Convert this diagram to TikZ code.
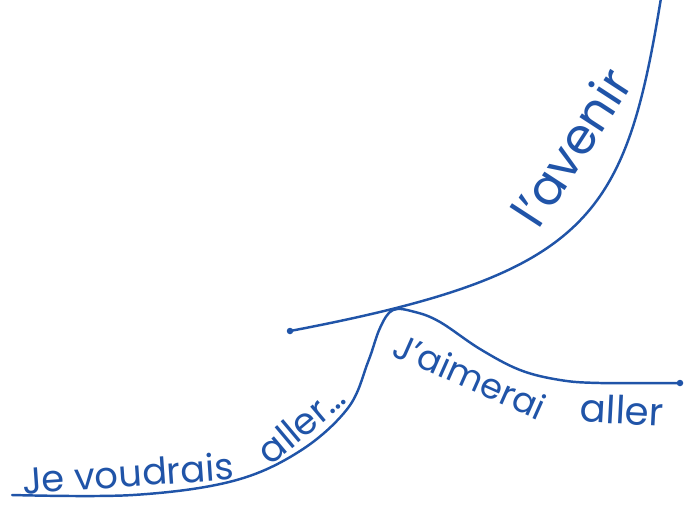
\documentclass[tikz,border=0pt]{standalone}
\usepackage{fontspec}
\setmainfont{Poppins}
\usetikzlibrary{positioning}
\definecolor{pen}{RGB}{32,84,168}
\tikzset{
  stroke/.style={draw=pen,line width=1.4pt,line cap=round,line join=round},
  scrawl/.style={text=pen,font=\fontsize{#1}{#1}\selectfont,inner sep=0pt},
  scrawl/.default=20,
  tip/.style={circle,fill=pen,inner sep=0pt,minimum size=1.3mm},
}

\begin{document}
\begin{tikzpicture}[x=0.02cm,y=-0.02cm]
  \useasboundingbox (0,0) rectangle (700,518);
  % ends of the lines
  \node[tip] (from) at (290,331) {};
  \node[tip] (goal) at (680,383) {};
  \coordinate (sky) at (661,-2);
  \coordinate (floor) at (12,495);
  % l'avenir
  \draw[stroke] (from.center) .. controls (590,274) and (625,219) .. (sky);
  % the wish and the will
  \draw[stroke] plot[smooth,tension=0.6] coordinates {(floor) (133,495) (233,481) (300,451) (348,408) (368,362) (380,328) (393,310) (415,312) (440,322) (480,349) (520,370) (560,380) (600,383) (goal.center)};
  \node[scrawl=21,rotate=4] (wish) at (128,473) {Je voudrais};
  \node[scrawl=21,rotate=40] (go) at (301,424) {aller\ldots};
  \node[scrawl,rotate=-24] (will) at (470,376) {J'aimerai};
  \node[scrawl=22,rotate=-3] (go2) at (622,410) {aller};
  \node[scrawl=28,rotate=57] (future) at (571,147) {l'avenir};
\end{tikzpicture}
\end{document}
